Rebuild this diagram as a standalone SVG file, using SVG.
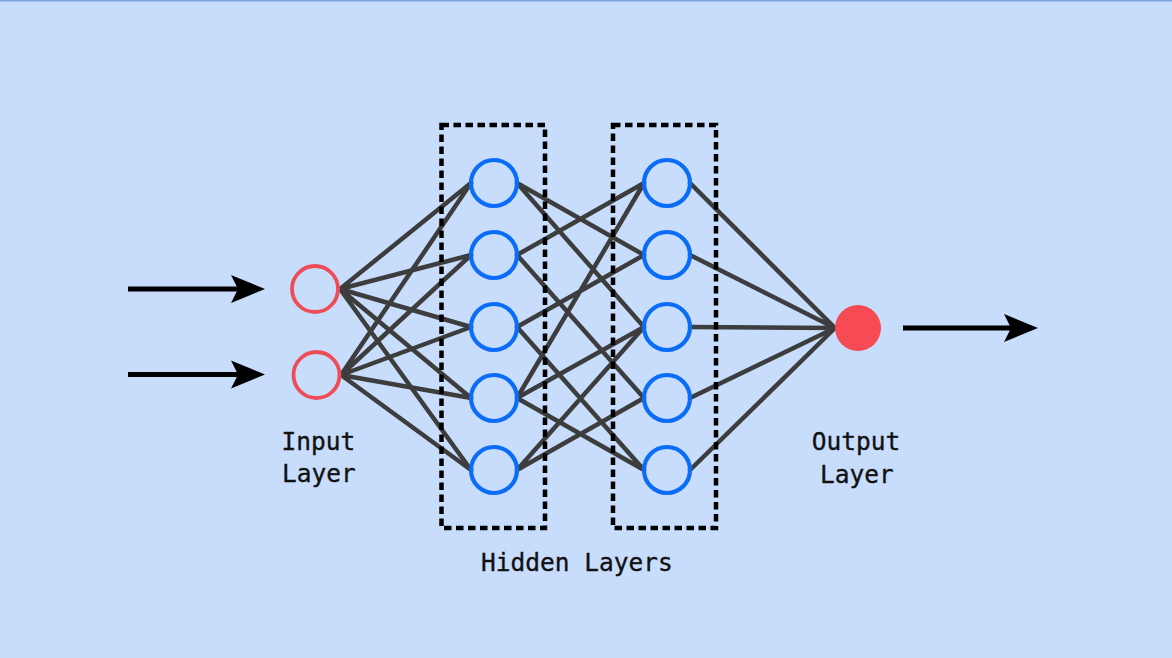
<svg xmlns="http://www.w3.org/2000/svg" width="1172" height="658" viewBox="0 0 1172 658">
  <defs>
    <style>
      .bg { fill: #c8ddfc; }
      .edge { stroke: #3d3d3d; stroke-width: 4.5; stroke-linecap: round; fill: none; }
      .flow { stroke: #000; stroke-width: 5; fill: none; }
      .group { fill: none; stroke: #000; stroke-width: 4.5; stroke-dasharray: 7.5 4.5; }
      .in { fill: none; stroke: #f04c57; stroke-width: 3.8; }
      .hid { fill: none; stroke: #0a6cf7; stroke-width: 4.2; }
      .out { fill: #f64a55; }
      .lbl { font-family: "DejaVu Sans Mono", "Liberation Mono", monospace; font-size: 24.5px; fill: #111; stroke: #111; stroke-width: 0.35; text-anchor: middle; }
    </style>
    <marker id="head" markerUnits="userSpaceOnUse" viewBox="0 0 34 30" markerWidth="34" markerHeight="30" refX="7" refY="15" orient="auto">
      <path d="M0,1 L34,15 L0,29 L7,15 Z" fill="#000"/>
    </marker>
  </defs>

  <rect class="bg" x="0" y="0" width="1172" height="658"/>
  <rect x="0" y="0" width="1172" height="1.5" fill="#7aa6e8"/>

  <!-- connectors -->
  <g id="connectors">
    <!-- input arrows -->
    <path class="flow" d="M128,289 H238" marker-end="url(#head)"/>
    <path class="flow" d="M128,374.5 H238" marker-end="url(#head)"/>
    <!-- output arrow -->
    <path class="flow" d="M903,328 H1011" marker-end="url(#head)"/>

    <!-- input layer to hidden layer 1 -->
    <path class="edge" d="M340,289 L471,183 M340,289 L471,255 M340,289 L471,327 M340,289 L471,398 M340,289 L471,470"/>
    <path class="edge" d="M341,375 L471,183 M341,375 L471,255 M341,375 L471,327 M341,375 L471,398 M341,375 L471,470"/>

    <!-- hidden layer 1 to hidden layer 2 -->
    <path class="edge" d="M517,183 L644,255 M517,183 L644,327
                          M517,255 L644,183 M517,255 L644,398
                          M517,327 L644,255 M517,327 L644,470
                          M517,398 L644,183 M517,398 L644,327 M517,398 L644,470
                          M517,470 L644,327 M517,470 L644,398"/>

    <!-- hidden layer 2 to output -->
    <path class="edge" d="M690,183 L835,328 M690,255 L835,328 M690,327 L835,328 M690,398 L835,328 M690,470 L835,328"/>
  </g>

  <!-- hidden layer groupings -->
  <g id="hidden-groups">
    <rect class="group" x="441.5" y="125" width="103.5" height="403"/>
    <rect class="group" x="613" y="125" width="103" height="403"/>
  </g>

  <!-- input layer -->
  <g id="input-1"><circle class="in" cx="315" cy="289" r="23"/></g>
  <g id="input-2"><circle class="in" cx="316.5" cy="375" r="23"/></g>

  <!-- hidden layer 1 -->
  <g id="h1-1"><circle class="hid" cx="494" cy="183" r="23"/></g>
  <g id="h1-2"><circle class="hid" cx="494" cy="255" r="23"/></g>
  <g id="h1-3"><circle class="hid" cx="494" cy="327" r="23"/></g>
  <g id="h1-4"><circle class="hid" cx="494" cy="398" r="23"/></g>
  <g id="h1-5"><circle class="hid" cx="494" cy="470" r="23"/></g>

  <!-- hidden layer 2 -->
  <g id="h2-1"><circle class="hid" cx="667" cy="183" r="23"/></g>
  <g id="h2-2"><circle class="hid" cx="667" cy="255" r="23"/></g>
  <g id="h2-3"><circle class="hid" cx="667" cy="327" r="23"/></g>
  <g id="h2-4"><circle class="hid" cx="667" cy="398" r="23"/></g>
  <g id="h2-5"><circle class="hid" cx="667" cy="470" r="23"/></g>

  <!-- output layer -->
  <g id="output"><circle class="out" cx="858" cy="328" r="23"/></g>

  <!-- labels -->
  <g id="label-input">
    <text class="lbl" x="318.5" y="450">Input</text>
    <text class="lbl" x="319" y="482">Layer</text>
  </g>
  <g id="label-output">
    <text class="lbl" x="856" y="450">Output</text>
    <text class="lbl" x="857" y="483">Layer</text>
  </g>
  <g id="label-hidden">
    <text class="lbl" x="577" y="571">Hidden Layers</text>
  </g>
</svg>
